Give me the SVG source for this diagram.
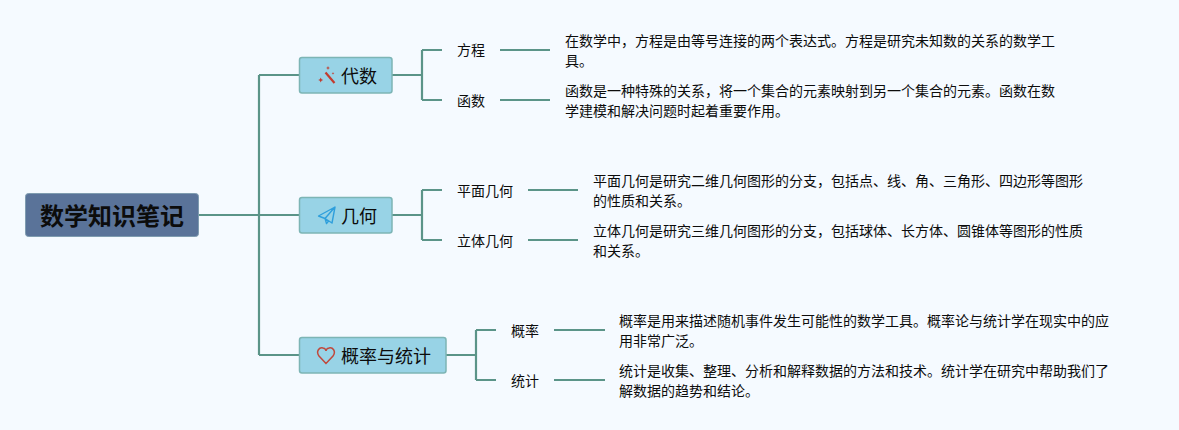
<svg xmlns="http://www.w3.org/2000/svg" width="1179" height="430" viewBox="0 0 1179 430">
<style>
text{font-family:"Noto Sans CJK SC","Liberation Sans",sans-serif;fill:#0c0c0c}
.c{fill:none;stroke:#5b9488;stroke-width:2.200}
.n{fill:#98d3e6;stroke:#7db5b5;stroke-width:1.500}
.t{font-size:18px}
.l{font-size:14px}
.d{font-size:14px}
</style>
<rect width="1179" height="430" fill="#f5faff"/>
<g id="connectors">
<path class="c" d="M199 215H299M259 75V355M259 75H299M259 355H299"/>
<path class="c" d="M392 75H422M422 50V100M422 50H442M422 100H442M500 50H550M500 100H550"/>
<path class="c" d="M392 215H422M422 190V240M422 190H442M422 240H442M528 190H578M528 240H578"/>
<path class="c" d="M446 355H476M476 330V380M476 330H496M476 380H496M554 330H605M554 380H605"/>
</g>
<g id="root"><rect x="25.500" y="193.500" width="173" height="43" rx="3" fill="#5a7399" stroke="#7f9cb0"/><text x="40" y="225" font-size="24" font-weight="700">数学知识笔记</text></g>
<g id="node-algebra"><rect class="n" x="299.500" y="57.500" width="92.500" height="35.500" rx="2.500"/>
<path d="M325.500 72.500L334.500 83" fill="none" stroke="#c23b2e" stroke-width="2.200"/>
<path d="M320.700 77.500l.8 1.700 1.700.8-1.700.8-.8 1.700-.8-1.700-1.700-.8 1.700-.8zM328 66l.6 1.400 1.400.6-1.400.6-.6 1.400-.6-1.400-1.400-.6 1.400-.6zM333 72l.4 1 1 .4-1 .4-.4 1-.4-1-1-.4 1-.4z" fill="#c23b2e"/>
<text class="t" x="341" y="83">代数</text></g>
<g id="node-geometry"><rect class="n" x="299.500" y="197.500" width="92.500" height="35.500" rx="2.500"/>
<path d="M335 207L318.500 216L325 218.500L335 207L332 223L325 218.500L326.500 223.500L329 220.500" fill="none" stroke="#2f9fdc" stroke-width="1.400" stroke-linejoin="round"/>
<text class="t" x="341" y="223">几何</text></g>
<g id="node-stats"><rect class="n" x="299.500" y="337.500" width="146.500" height="35.500" rx="2.500"/>
<path d="M326 363.500L319 356C315.500 351 319.500 347 323 348C325 348.500 326 350 326 351C326 350 327 348.500 329 348C332.500 347 336.500 351 333 356Z" fill="none" stroke="#c0483c" stroke-width="1.500"/>
<text class="t" x="341" y="363">概率与统计</text></g>
<g id="leaf-equation"><text class="l" x="457" y="55">方程</text><text class="d" x="565" y="46">在数学中，方程是由等号连接的两个表达式。方程是研究未知数的关系的数学工</text><text class="d" x="565" y="66">具。</text></g>
<g id="leaf-function"><text class="l" x="457" y="106">函数</text><text class="d" x="565" y="96">函数是一种特殊的关系，将一个集合的元素映射到另一个集合的元素。函数在数</text><text class="d" x="565" y="116">学建模和解决问题时起着重要作用。</text></g>
<g id="leaf-plane"><text class="l" x="457" y="196">平面几何</text><text class="d" x="593" y="186">平面几何是研究二维几何图形的分支，包括点、线、角、三角形、四边形等图形</text><text class="d" x="593" y="206">的性质和关系。</text></g>
<g id="leaf-solid"><text class="l" x="457" y="246">立体几何</text><text class="d" x="593" y="236">立体几何是研究三维几何图形的分支，包括球体、长方体、圆锥体等图形的性质</text><text class="d" x="593" y="256">和关系。</text></g>
<g id="leaf-probability"><text class="l" x="511" y="336">概率</text><text class="d" x="619" y="326">概率是用来描述随机事件发生可能性的数学工具。概率论与统计学在现实中的应</text><text class="d" x="619" y="346">用非常广泛。</text></g>
<g id="leaf-statistics"><text class="l" x="511" y="386">统计</text><text class="d" x="619" y="376">统计是收集、整理、分析和解释数据的方法和技术。统计学在研究中帮助我们了</text><text class="d" x="619" y="396">解数据的趋势和结论。</text></g>
</svg>
